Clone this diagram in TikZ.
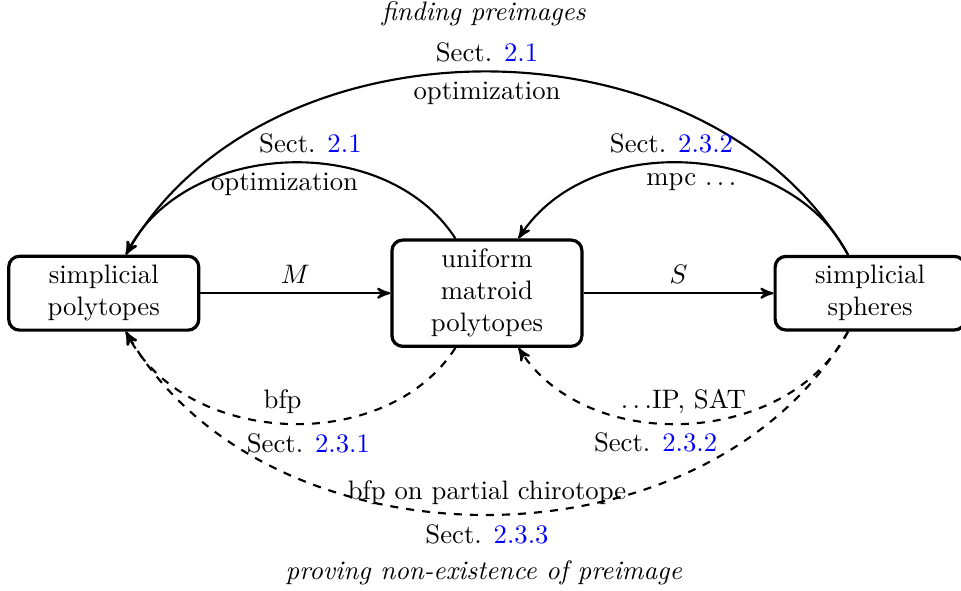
\documentclass[tikz,border=0pt]{standalone}
\usepackage{xcolor}
\usetikzlibrary{arrows, positioning}

\newcommand{\secref}[1]{{\color{blue}#1}}

\begin{document}
\begin{tikzpicture}[
		>=stealth',
		thick,
		class/.style={draw, very thick, rounded corners=4pt, minimum width=2.5cm, align=center},
		search/.style={->},
		proof/.style={->, dashed},
		headline/.style={font=\itshape}
		]
	
	\useasboundingbox (-1.365, -3.911) rectangle (11.28, 3.858);
	
	% Classes
	\node[class] (sp) at (0, 0) {simplicial\\polytopes};
	\node[class, right=2.5cm of sp] (ump) {uniform\\matroid\\polytopes};
	\node[class, right=2.5cm of ump] (ss) {simplicial\\spheres};
	
	% Maps
	\draw[->] (sp) -- node[above] {$M$} (ump);
	\draw[->] (ump) -- node[above] {$S$} (ss);
	
	% Finding preimages
	\node[headline] (find) at (5, 3.675) {finding preimages};
	\draw[search] (ump) to[bend right=60]
		node[above, pos=0.44] {Sect. \secref{2.1}}
		node[below, pos=0.505] {optimization} (sp);
	\draw[search] (ss) to[bend right=60]
		node[above] {Sect. \secref{2.1}}
		node[below] {optimization} (sp);
	\draw[search] (ss) to[bend right=60]
		node[above, pos=0.54] {Sect. \secref{2.3.2}}
		node[below, pos=0.49] {mpc $\ldots$} (ump);
	
	% Proving non-existence
	\node[headline] (nonex) at (5, -3.675) {proving non-existence of preimage};
	\draw[proof] (ump) to[bend left=60]
		node[above, pos=0.51] {bfp}
		node[below, pos=0.445] {Sect. \secref{2.3.1}} (sp);
	\draw[proof] (ss) to[bend left=60]
		node[above, pos=0.51] {$\ldots$IP, SAT}
		node[below, pos=0.58] {Sect. \secref{2.3.2}} (ump);
	\draw[proof] (ss) to[bend left=60]
		node[above] {bfp on partial chirotope}
		node[below] {Sect. \secref{2.3.3}} (sp);
	
\end{tikzpicture}
\end{document}
